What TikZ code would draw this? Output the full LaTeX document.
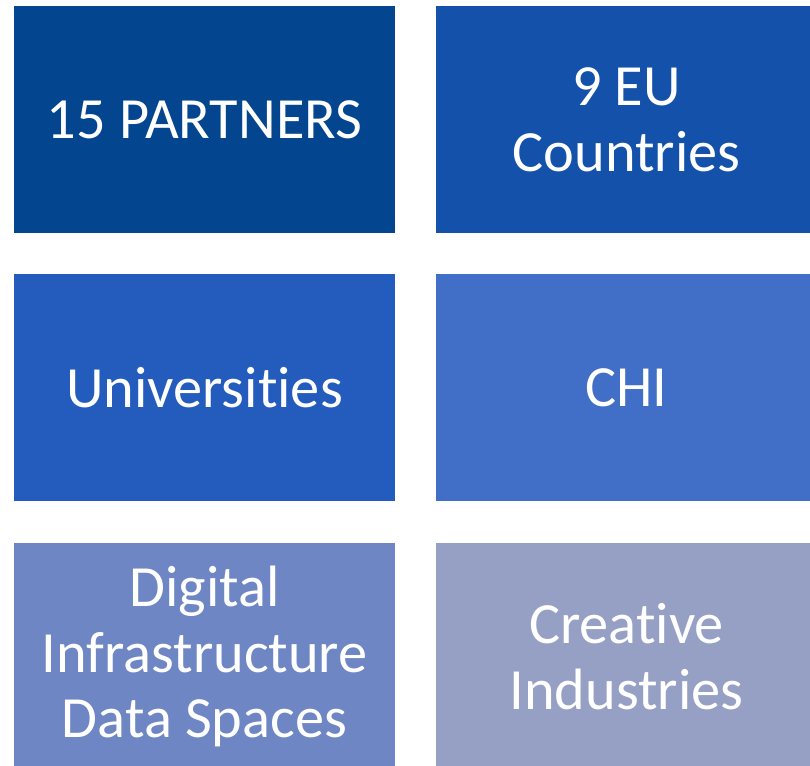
\documentclass[tikz,border=0pt]{standalone}
\usepackage{fontspec}
\setmainfont[RawFeature={-liga;-clig;-calt;-dlig}]{Carlito}

\definecolor{tileA}{HTML}{03458F}
\definecolor{tileB}{HTML}{1351AA}
\definecolor{tileC}{HTML}{235CBD}
\definecolor{tileD}{HTML}{416EC6}
\definecolor{tileE}{HTML}{6E86C3}
\definecolor{tileF}{HTML}{96A0C4}

\begin{document}
\begin{tikzpicture}
        \clip (0,0) rectangle (16.2,15.3);

        \begin{scope}[every node/.style={rectangle,minimum width=7.62cm,minimum height=4.54cm,
                inner sep=0pt,text=white,align=center,font=\fontsize{33.2}{37.5}\selectfont}]
            % Zeile 1
            \node[fill=tileA] (partners) at (4.09,12.91) {15 PARTNERS};
            \node[fill=tileB] (countries) at (12.53,12.91) {9 EU\\ Countries};

            % Zeile 2
            \node[fill=tileC] (universities) at (4.09,7.55) {Universities};
            \node[fill=tileD] (chi) at (12.53,7.55) {CHI};

            % Zeile 3
            \node[fill=tileE] (infrastructure) at (4.09,2.17) {Digital\\ Infrastructure\\ Data Spaces};
            \node[fill=tileF] (creative) at (12.53,2.17) {Creative\\ Industries};
        \end{scope}
    \end{tikzpicture}
\end{document}
